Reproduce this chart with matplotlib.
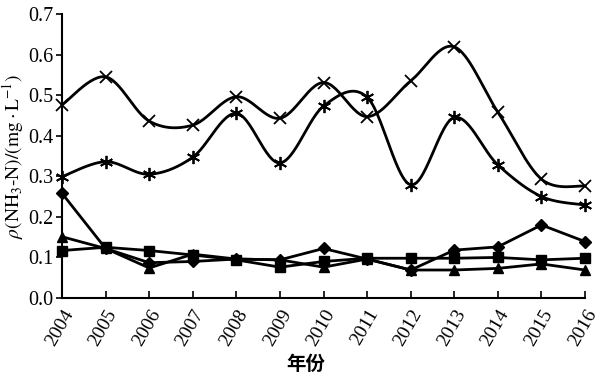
import numpy as np
import matplotlib
matplotlib.use("Agg")
import matplotlib.pyplot as plt

plt.rcParams['font.family'] = ['Liberation Serif', 'DejaVu Serif']
plt.rcParams['mathtext.fontset'] = 'stix'

years = [2004, 2005, 2006, 2007, 2008, 2009, 2010, 2011, 2012, 2013, 2014, 2015, 2016]
series_a = [0.476, 0.545, 0.436, 0.426, 0.496, 0.443, 0.531, 0.447, 0.535, 0.619, 0.458, 0.293, 0.276]
series_b = [0.299, 0.336, 0.305, 0.347, 0.455, 0.333, 0.473, 0.495, 0.279, 0.445, 0.328, 0.250, 0.229]
series_diamond = [0.258, 0.122, 0.087, 0.090, 0.096, 0.094, 0.122, 0.096, 0.069, 0.118, 0.126, 0.180, 0.139]
series_square = [0.117, 0.125, 0.117, 0.106, 0.094, 0.076, 0.090, 0.098, 0.098, 0.098, 0.100, 0.094, 0.098]
series_triangle = [0.151, 0.122, 0.074, 0.108, 0.096, 0.094, 0.076, 0.096, 0.069, 0.069, 0.073, 0.084, 0.069]


def smooth(x, y, n=30):
    x = np.asarray(x, float)
    y = np.asarray(y, float)
    px = np.concatenate([[x[0]], x, [x[-1]]])
    py = np.concatenate([[y[0]], y, [y[-1]]])
    xs, ys = [], []
    for i in range(1, len(px) - 2):
        p0 = np.array([px[i], py[i]])
        p3 = np.array([px[i + 1], py[i + 1]])
        c1 = p0 + (np.array([px[i + 1], py[i + 1]]) - np.array([px[i - 1], py[i - 1]])) / 6
        c2 = p3 - (np.array([px[i + 2], py[i + 2]]) - np.array([px[i], py[i]])) / 6
        t = np.linspace(0, 1, n)[:, None]
        pts = ((1 - t) ** 3) * p0 + 3 * ((1 - t) ** 2) * t * c1 + 3 * (1 - t) * t ** 2 * c2 + t ** 3 * p3
        xs.extend(pts[:, 0])
        ys.extend(pts[:, 1])
    return xs, ys


fig = plt.figure(figsize=(6.05, 3.82), dpi=100)
ax = fig.add_axes([0.1025, 0.2199, 0.8645, 0.7435])

lw = 2.0
for data, mk, ms in [(series_a, 'x', 8.5), (series_b, (6, 2, 0), 9.5)]:
    sx, sy = smooth(years, data)
    ax.plot(sx, sy, color='black', lw=lw, clip_on=False)
    ax.plot(years, data, ls='none', marker=mk, ms=ms, mew=1.3, color='black', clip_on=False)

ax.plot(years, series_diamond, color='black', lw=lw, marker='D', ms=6, clip_on=False)
ax.plot(years, series_square, color='black', lw=lw, marker='s', ms=7, clip_on=False)
ax.plot(years, series_triangle, color='black', lw=lw, marker='^', ms=7, clip_on=False)

ax.set_xlim(2004, 2016)
ax.set_ylim(0, 0.7)
ax.set_xticks(years)
ax.set_xticklabels([str(y) for y in years], rotation=60, ha='right', rotation_mode='anchor')
ax.set_yticks(np.arange(0, 0.71, 0.1))
ax.set_yticklabels([f"{v:.1f}" for v in np.arange(0, 0.71, 0.1)])
ax.tick_params(axis='x', direction='in', length=5, width=1.2, labelsize=14, pad=6)
ax.tick_params(axis='y', direction='out', length=4, width=1.2, labelsize=14.5, pad=2)
for s in ['top', 'right']:
    ax.spines[s].set_visible(False)
for s in ['left', 'bottom']:
    ax.spines[s].set_linewidth(1.5)

ax.set_ylabel(r'$\rho(\mathrm{NH_3}\text{-}\mathrm{N})/(\mathrm{mg}\cdot\mathrm{L}^{-1})$', fontsize=14, labelpad=2)
fig.text(0.505, 0.045, '年份', fontsize=14, fontweight='bold', ha='center', va='center',
         family=['Noto Sans CJK SC', 'DejaVu Sans'])

fig.savefig('out.png', dpi=100)
